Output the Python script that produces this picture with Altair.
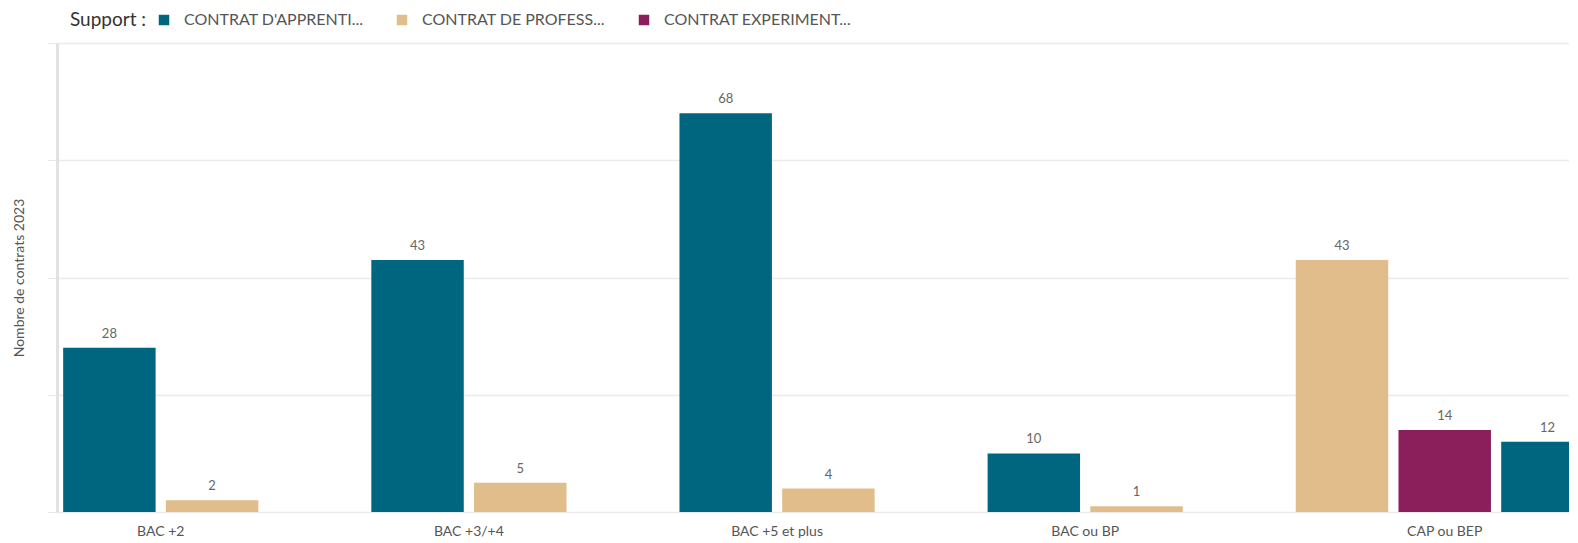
import altair as alt
import pandas as pd

# ---- data -------------------------------------------------------------
categories = ["BAC +2", "BAC +3/+4", "BAC +5 et plus", "BAC ou BP", "CAP ou BEP"]
series_names = ["CONTRAT D'APPRENTI...", "CONTRAT DE PROFESS...", "CONTRAT EXPERIMENT..."]
series_colors = ["#00667f", "#e0bd8a", "#8a1f5b"]

bar_category = ["BAC +2", "BAC +2",
                "BAC +3/+4", "BAC +3/+4",
                "BAC +5 et plus", "BAC +5 et plus",
                "BAC ou BP", "BAC ou BP",
                "CAP ou BEP", "CAP ou BEP", "CAP ou BEP"]
bar_series = [series_names[0], series_names[1],
              series_names[0], series_names[1],
              series_names[0], series_names[1],
              series_names[0], series_names[1],
              series_names[1], series_names[2], series_names[0]]
bar_values = [28, 2, 43, 5, 68, 4, 10, 1, 43, 14, 12]

y_ticks = [0, 20, 40, 60, 80]

df = pd.DataFrame({
    "category": bar_category,
    "support": bar_series,
    "value": bar_values,
})
df["group"] = [categories.index(c) for c in df["category"]]
df["order"] = range(len(df))

FONT = "Lato"

base = (
    alt.Chart(df)
    .transform_window(rn="row_number()", sort=[alt.SortField("order")])
    .transform_calculate(slot="datum.rn - 1 + datum.group")
    .transform_calculate(x0="datum.slot - 0.45", x1="datum.slot + 0.45")
)

xscale = alt.Scale(domain=[-0.51, 14.21], nice=False, zero=False)
yscale = alt.Scale(domain=[0, 80], nice=False)

bars = base.mark_bar(clip=True).encode(
    x=alt.X("x0:Q", scale=xscale, axis=None),
    x2="x1:Q",
    y=alt.Y(
        "value:Q",
        scale=yscale,
        axis=alt.Axis(
            values=y_ticks,
            labels=False,
            title="Nombre de contrats 2023",
            titleFont=FONT,
            titleFontSize=14,
            titleFontWeight="normal",
            titleColor="#555555",
            titlePadding=20,
            domain=True,
            domainColor="#e2e2e2",
            domainWidth=3,
            ticks=True,
            tickSize=10,
            tickColor="#e8e8e8",
            grid=True,
            gridColor="#ebebeb",
            gridWidth=1.5,
        ),
    ),
    y2=alt.datum(0),
    color=alt.Color(
        "support:N",
        scale=alt.Scale(domain=series_names, range=series_colors),
        legend=alt.Legend(
            orient="none",
            legendX=13,
            legendY=-31,
            direction="horizontal",
            title="Support :",
            titleOrient="left",
            titleFont=FONT,
            titleFontSize=19,
            titleFontWeight="normal",
            titleColor="#333333",
            titlePadding=9,
            labelFont=FONT,
            labelFontSize=16,
            labelColor="#555555",
            labelLimit=400,
            labelOffset=12,
            symbolType="square",
            symbolSize=110,
            symbolStrokeWidth=0,
            columnPadding=30,
        ),
    ),
)

value_labels = base.mark_text(
    baseline="bottom", dy=-7, fontSize=13, color="#666666", font=FONT
).encode(
    x=alt.X("slot:Q", scale=xscale),
    y=alt.Y("value:Q", scale=yscale),
    text=alt.Text("value:Q"),
)

cat_labels = (
    base.transform_aggregate(center="mean(slot)", groupby=["category"])
    .mark_text(baseline="middle", dy=20, fontSize=14, color="#555555", font=FONT)
    .encode(
        x=alt.X("center:Q", scale=xscale),
        y=alt.datum(0),
        text="category:N",
    )
)

chart = (
    alt.layer(bars, value_labels, cat_labels)
    .properties(width=1512, height=469, padding={"top": 4, "left": 4, "right": 0, "bottom": 0})
    .configure_view(strokeWidth=0)
    .configure(font=FONT)
)

chart.save("out.html", embed_options={"renderer": "svg", "actions": False})
